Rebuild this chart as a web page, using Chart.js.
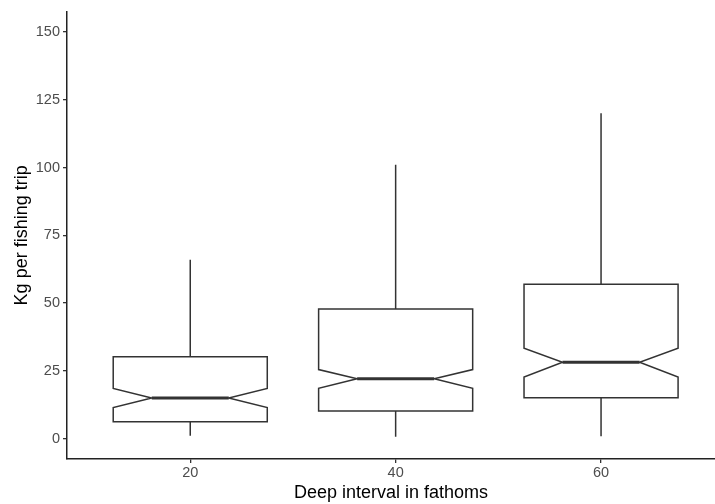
<!DOCTYPE html>
<html>
<head>
<meta charset="utf-8">
<script src="https://cdn.jsdelivr.net/npm/chart.js@4"></script>
<style>
    html, body { margin: 0; padding: 0; background: #ffffff; }
    #wrap { width: 715px; height: 504px; }
</style>
</head>
<body>
<div id="wrap"><canvas id="chart" width="715" height="504"></canvas></div>
<script>
// Deep interval categories (discrete positions 1..3)
const categories = ["20", "40", "60"];
const positions = [1, 2, 3];

// Notched box stats
const whiskerLow = [1.1, 0.7, 0.9];
const q1 = [6.2, 10.2, 15.1];
const notchLow = [11.5, 18.6, 22.7];
const median = [15.0, 22.1, 28.2];
const notchHigh = [18.5, 25.5, 33.4];
const q3 = [30.2, 47.8, 57.0];
const whiskerHigh = [66, 101, 120];

const yTicks = [0, 25, 50, 75, 100, 125, 150];

const boxWidth = 0.75;    // in category units
const notchWidth = 0.5;   // fraction of box width at the median

const lineColor = "#333333";

// Draws the notched boxes through the chart scales
const notchedBoxPlugin = {
    id: "notchedBox",
    afterDatasetsDraw(chart) {
        const ctx = chart.ctx;
        const x = chart.scales.x;
        const y = chart.scales.y;
        ctx.save();
        ctx.strokeStyle = lineColor;
        ctx.lineJoin = "miter";
        positions.forEach((p, i) => {
            const cx = x.getPixelForValue(p);
            const left = x.getPixelForValue(p - boxWidth / 2);
            const right = x.getPixelForValue(p + boxWidth / 2);
            const inset = (right - left) * (1 - notchWidth) / 2;

            // whiskers
            ctx.lineWidth = 1.5;
            ctx.beginPath();
            ctx.moveTo(cx, y.getPixelForValue(q3[i]));
            ctx.lineTo(cx, y.getPixelForValue(whiskerHigh[i]));
            ctx.moveTo(cx, y.getPixelForValue(q1[i]));
            ctx.lineTo(cx, y.getPixelForValue(whiskerLow[i]));
            ctx.stroke();

            // box outline with notch
            ctx.fillStyle = "#ffffff";
            ctx.beginPath();
            ctx.moveTo(left, y.getPixelForValue(q3[i]));
            ctx.lineTo(right, y.getPixelForValue(q3[i]));
            ctx.lineTo(right, y.getPixelForValue(notchHigh[i]));
            ctx.lineTo(right - inset, y.getPixelForValue(median[i]));
            ctx.lineTo(right, y.getPixelForValue(notchLow[i]));
            ctx.lineTo(right, y.getPixelForValue(q1[i]));
            ctx.lineTo(left, y.getPixelForValue(q1[i]));
            ctx.lineTo(left, y.getPixelForValue(notchLow[i]));
            ctx.lineTo(left + inset, y.getPixelForValue(median[i]));
            ctx.lineTo(left, y.getPixelForValue(notchHigh[i]));
            ctx.closePath();
            ctx.fill();
            ctx.stroke();

            // median
            ctx.lineWidth = 3;
            ctx.beginPath();
            ctx.moveTo(left + inset, y.getPixelForValue(median[i]));
            ctx.lineTo(right - inset, y.getPixelForValue(median[i]));
            ctx.stroke();
        });
        ctx.restore();
    }
};

const tickFont = { family: "'Liberation Sans', Arial, sans-serif", size: 14.5 };
const titleFont = { family: "'Liberation Sans', Arial, sans-serif", size: 18 };

new Chart(document.getElementById("chart").getContext("2d"), {
    type: "scatter",
    data: {
        datasets: [{
            data: positions.map((p, i) => ({ x: p, y: median[i] })),
            pointRadius: 0,
            showLine: false
        }]
    },
    options: {
        responsive: false,
        animation: false,
        layout: { padding: { top: 8, right: 0, left: 0, bottom: 0 } },
        plugins: {
            legend: { display: false },
            tooltip: { enabled: false }
        },
        scales: {
            x: {
                type: "linear",
                min: 0.4,
                max: 3 + (715 - 601) / 205.5,
                afterBuildTicks: (scale) => {
                    scale.ticks = positions.map(v => ({ value: v }));
                },
                afterFit: (scale) => { scale.height = 45; },
                ticks: {
                    color: "#4d4d4d",
                    font: tickFont,
                    padding: 1,
                    maxRotation: 0,
                    callback: (v) => categories[positions.indexOf(v)]
                },
                grid: {
                    drawOnChartArea: false,
                    drawTicks: true,
                    tickLength: 4,
                    color: "#333333",
                    lineWidth: 1.3
                },
                border: { display: true, color: "#222222", width: 1.5 },
                title: {
                    display: true,
                    text: "Deep interval in fathoms",
                    color: "#000000",
                    font: titleFont,
                    padding: { top: 0, bottom: 0 }
                }
            },
            y: {
                type: "linear",
                min: -7.5,
                max: 157.5,
                afterBuildTicks: (scale) => {
                    scale.ticks = yTicks.map(v => ({ value: v }));
                },
                afterFit: (scale) => { scale.width = 67; },
                ticks: {
                    color: "#4d4d4d",
                    font: tickFont,
                    padding: 3
                },
                grid: {
                    drawOnChartArea: false,
                    drawTicks: true,
                    tickLength: 4,
                    color: "#333333",
                    lineWidth: 1.3
                },
                border: { display: true, color: "#222222", width: 1.5 },
                title: {
                    display: true,
                    text: "Kg per fishing trip",
                    color: "#000000",
                    font: titleFont,
                    padding: { top: 11, bottom: 0 }
                }
            }
        }
    },
    plugins: [notchedBoxPlugin]
});
</script>
</body>
</html>
